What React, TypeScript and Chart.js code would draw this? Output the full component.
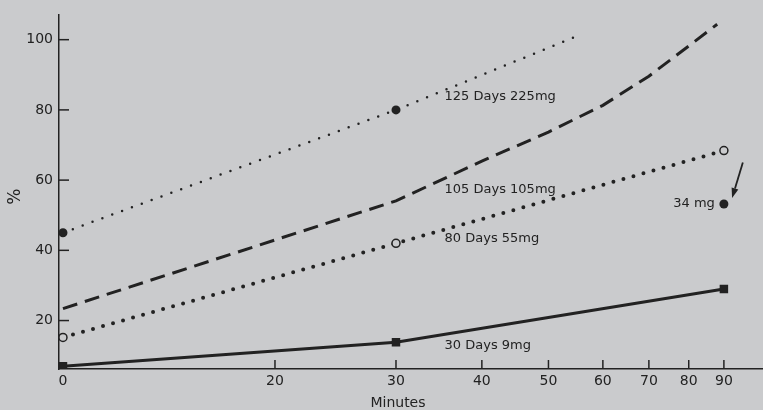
import React, { useEffect, useRef } from "react";
import { Chart, registerables } from "chart.js";

Chart.register(...registerables);

// ---- data ----
const TICK_MINUTES = [0, 20, 30, 40, 50, 60, 70, 80, 90];
const Y_TICKS = [20, 40, 60, 80, 100];

const MIN_125 = [0, 30, 56];
const PCT_125 = [45, 80, 101.6];

const MIN_105 = [0, 30, 40, 50, 60, 70, 80, 88];
const PCT_105 = [23.4, 54.1, 65.4, 73.7, 81.3, 89.6, 98.2, 104.4];

const MIN_80 = [0, 30, 90];
const PCT_80 = [15.2, 42, 68.4];

const MIN_30 = [0, 30, 90];
const PCT_30 = [7, 13.8, 29];

const MIN_34 = [90];
const PCT_34 = [53.2];

const LABEL_TEXTS = ["125 Days 225mg", "105 Days 105mg", "80 Days 55mg", "30 Days 9mg"];
const LABEL_MIN = [35.3, 35.3, 35.3, 35.3];
const LABEL_PCT = [83.9, 57.4, 43.4, 12.9];

const NOTE_TEXT = "34 mg";
const NOTE_MIN = 87.3;
const NOTE_PCT = 53.2;
const ARROW_FROM = [95.9, 65.0];
const ARROW_TO = [92.5, 54.9];

// ---- axis transform (broken axis: 0..20 compressed, logarithmic from 20 on) ----
const LOG_START = 20;
const ZERO_EQUIV = 9.83;
const AXIS_MIN_EQUIV = 9.7;
const AXIS_MAX_EQUIV = 102.6;
function u(m: number): number {
  if (m >= LOG_START) return Math.log(m);
  const a = Math.log(LOG_START);
  const b = Math.log(ZERO_EQUIV);
  return a - ((LOG_START - m) / LOG_START) * (a - b);
}

const BG = "#cacbcd";
const INK = "#222222";
const FONT = '"DejaVu Sans", sans-serif';

const pts = (ms: number[], ps: number[]) => ms.map((m, i) => ({ x: u(m), y: ps[i] }));

const decoPlugin = {
  id: "deco",
  beforeDraw(chart: any) {
    const { ctx, width, height } = chart;
    ctx.save();
    ctx.fillStyle = BG;
    ctx.fillRect(0, 0, width, height);
    ctx.restore();
  },
  afterDraw(chart: any) {
    const { ctx, chartArea } = chart;
    const xs = chart.scales.x;
    const ys = chart.scales.y;
    ctx.save();
    ctx.strokeStyle = INK;
    ctx.fillStyle = INK;
    ctx.lineWidth = 1.5;
    // inward tick marks
    TICK_MINUTES.forEach((m) => {
      if (m === 0) return;
      const px = xs.getPixelForValue(u(m));
      ctx.beginPath();
      ctx.moveTo(px, chartArea.bottom);
      ctx.lineTo(px, chartArea.bottom - 9);
      ctx.stroke();
    });
    Y_TICKS.forEach((v) => {
      const py = ys.getPixelForValue(v);
      ctx.beginPath();
      ctx.moveTo(chartArea.left, py);
      ctx.lineTo(chartArea.left + 10, py);
      ctx.stroke();
    });
    // series labels
    ctx.font = `13px ${FONT}`;
    ctx.textBaseline = "middle";
    ctx.textAlign = "left";
    LABEL_TEXTS.forEach((t, i) => {
      ctx.fillText(t, xs.getPixelForValue(u(LABEL_MIN[i])), ys.getPixelForValue(LABEL_PCT[i]));
    });
    ctx.textAlign = "right";
    ctx.fillText(NOTE_TEXT, xs.getPixelForValue(u(NOTE_MIN)), ys.getPixelForValue(NOTE_PCT));
    // arrow
    const x1 = xs.getPixelForValue(u(ARROW_FROM[0]));
    const y1 = ys.getPixelForValue(ARROW_FROM[1]);
    const x2 = xs.getPixelForValue(u(ARROW_TO[0]));
    const y2 = ys.getPixelForValue(ARROW_TO[1]);
    const ang = Math.atan2(y2 - y1, x2 - x1);
    const hl = 10, hw = 3.5;
    const bx = x2 - hl * Math.cos(ang);
    const by = y2 - hl * Math.sin(ang);
    ctx.lineWidth = 1.8;
    ctx.beginPath();
    ctx.moveTo(x1, y1);
    ctx.lineTo(bx, by);
    ctx.stroke();
    ctx.beginPath();
    ctx.moveTo(x2, y2);
    ctx.lineTo(bx + hw * Math.sin(ang), by - hw * Math.cos(ang));
    ctx.lineTo(bx - hw * Math.sin(ang), by + hw * Math.cos(ang));
    ctx.closePath();
    ctx.fill();
    // axis titles
    ctx.font = `14px ${FONT}`;
    ctx.textAlign = "center";
    ctx.textBaseline = "middle";
    ctx.fillText("Minutes", xs.getPixelForValue(u(30.2)), chartArea.bottom + 34);
    ctx.save();
    ctx.translate(16, (chartArea.top + chartArea.bottom) / 2 + 5);
    ctx.rotate(-Math.PI / 2);
    ctx.font = `17px ${FONT}`;
    ctx.fillText("%", 0, 0);
    ctx.restore();
    ctx.restore();
  },
};

export default function App() {
  const ref = useRef<HTMLCanvasElement | null>(null);
  useEffect(() => {
    document.body.style.background = BG;
    const canvas = ref.current;
    if (!canvas) return;
    const chart = new Chart(canvas, {
      type: "line",
      data: {
        datasets: [
          {
            label: "125 Days 225mg",
            data: pts(MIN_125, PCT_125),
            borderColor: INK,
            borderWidth: 2.5,
            borderDash: [0, 10.5],
            borderCapStyle: "round",
            pointRadius: [4.5, 4.5, 0],
            pointBackgroundColor: INK,
            pointBorderWidth: 0,
            fill: false,
            tension: 0,
          },
          {
            label: "105 Days 105mg",
            data: pts(MIN_105, PCT_105),
            borderColor: INK,
            borderWidth: 3,
            borderDash: [15, 8],
            borderCapStyle: "butt",
            pointRadius: 0,
            fill: false,
            tension: 0,
          },
          {
            label: "80 Days 55mg",
            data: pts(MIN_80, PCT_80),
            borderColor: INK,
            borderWidth: 4,
            borderDash: [0, 10.4],
            borderCapStyle: "round",
            pointRadius: 4,
            pointBackgroundColor: BG,
            pointBorderColor: INK,
            pointBorderWidth: 1.5,
            fill: false,
            tension: 0,
          },
          {
            label: "30 Days 9mg",
            data: pts(MIN_30, PCT_30),
            borderColor: INK,
            borderWidth: 3,
            pointStyle: "rect",
            pointRadius: 6,
            pointBackgroundColor: INK,
            pointBorderWidth: 0,
            fill: false,
            tension: 0,
          },
          {
            label: "34 mg",
            data: pts(MIN_34, PCT_34),
            showLine: false,
            pointRadius: 4.5,
            pointBackgroundColor: INK,
            pointBorderWidth: 0,
          },
        ],
      },
      options: {
        animation: false,
        responsive: false,
        maintainAspectRatio: false,
        devicePixelRatio: 1,
        layout: { autoPadding: false, padding: { top: 10, right: 0, left: 0, bottom: 0 } },
        plugins: { legend: { display: false }, tooltip: { enabled: false } },
        scales: {
          x: {
            type: "linear",
            min: Math.log(AXIS_MIN_EQUIV),
            max: Math.log(AXIS_MAX_EQUIV),
            grid: { display: false, drawTicks: false },
            border: { display: true, color: INK, width: 1.5 },
            afterBuildTicks: (s: any) => {
              s.ticks = TICK_MINUTES.map((m) => ({ value: u(m) }));
            },
            afterFit: (s: any) => {
              s.height = 41;
            },
            ticks: {
              autoSkip: false,
              maxRotation: 0,
              padding: 4,
              color: INK,
              font: { family: FONT, size: 14 },
              callback: (_v: any, i: number) => String(TICK_MINUTES[i]),
            },
          },
          y: {
            type: "linear",
            min: 6.2,
            max: 107.2,
            grid: { display: false, drawTicks: false },
            border: { display: true, color: INK, width: 1.5 },
            afterBuildTicks: (s: any) => {
              s.ticks = Y_TICKS.map((v) => ({ value: v }));
            },
            afterFit: (s: any) => {
              s.width = 59;
            },
            ticks: {
              padding: 6,
              color: INK,
              font: { family: FONT, size: 14 },
            },
          },
        },
      },
      plugins: [decoPlugin],
    });
    return () => chart.destroy();
  }, []);
  return (
    <div style={{ position: "fixed", left: 0, top: 0, width: 763, height: 410, background: BG }}>
      <canvas ref={ref} width={763} height={410} style={{ display: "block", width: 763, height: 410 }} />
    </div>
  );
}
